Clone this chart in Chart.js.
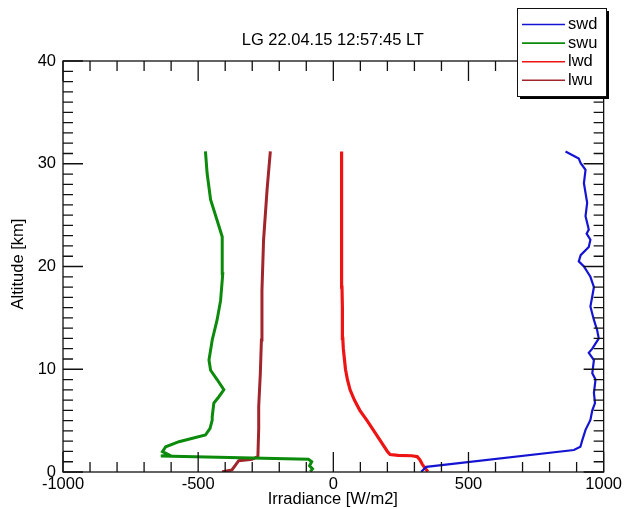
<!DOCTYPE html>
<html>
<head>
<meta charset="utf-8">
<script src="https://cdn.jsdelivr.net/npm/chart.js@4.4.0/dist/chart.umd.min.js"></script>
<style>
  body { margin: 0; background: #fff; }
  canvas { display: block; }
</style>
</head>
<body>
<canvas id="chart" width="625" height="509"></canvas>
<script>
const titre = 'LG 22.04.15 12:57:45 LT';
const xTitre = 'Irradiance [W/m2]';
const yTitre = 'Altitude [km]';
const xTicks = [-1000, -500, 0, 500, 1000];
const yTicks = [0, 10, 20, 30, 40];
const noms = ['swd', 'swu', 'lwd', 'lwu'];
const couleurs = ['#1414d2', '#0c8a0c', '#ee1414', '#a0262c'];

// altitude (km) / irradiance (W/m2)
const swdAlt = [0.03, 0.5, 2.14, 2.46, 3.1, 4.1, 5.06, 6.0, 6.7, 7.7, 9.0, 9.6, 10.9, 11.6, 12.0, 13.0, 13.8, 14.8, 16.1, 17.1, 18.0, 19.0, 20.0, 20.5, 21.1, 21.9, 22.6, 23.2, 23.6, 24.9, 26.2, 28.1, 29.4, 30.06, 30.5, 31.2];
const swdVal = [325, 344, 890, 914, 921, 933, 951, 958, 968, 964, 970, 958, 964, 945, 958, 982, 976, 964, 951, 958, 964, 951, 927, 908, 915, 945, 951, 937, 945, 933, 939, 927, 933, 915, 908, 859];

const swuAlt = [0.05, 0.3, 0.6, 1.0, 1.23, 1.56, 1.66, 1.98, 2.46, 2.95, 3.6, 4.25, 5.06, 5.4, 6.7, 7.3, 8.0, 9.0, 9.9, 10.9, 12.85, 14.8, 16.7, 19.3, 22.9, 24.5, 26.5, 29.1, 31.2];
const swuVal = [-85, -77, -88, -80, -92, -638, -608, -632, -620, -571, -473, -456, -448, -448, -442, -424, -405, -430, -454, -460, -448, -430, -417, -409, -411, -430, -454, -467, -473];

const lwdAlt = [0.05, 0.4, 0.8, 1.2, 1.5, 1.58, 1.62, 1.7, 2.0, 3.0, 4.0, 5.0, 6.0, 7.0, 8.0, 9.0, 10.0, 11.0, 12.0, 13.0, 14.0, 16.0, 18.0, 21.0, 24.0, 27.0, 30.0, 31.2];
const lwdVal = [350, 338, 328, 320, 310, 290, 240, 210, 200, 175, 150, 125, 98, 78, 62, 52, 45, 41, 37, 35, 34, 33, 32, 31, 31, 30, 30, 31];

const lwuAlt = [0.03, 0.2, 0.68, 1.1, 1.23, 1.5, 4.25, 6.4, 9.6, 12.85, 17.7, 22.6, 27.5, 31.2];
const lwuVal = [-411, -375, -362, -350, -301, -279, -276, -276, -270, -266, -264, -258, -245, -233];

const police = '16.5px "Liberation Sans", Arial, sans-serif';

function points(alt, val) {
  return alt.map((a, i) => ({ x: val[i], y: a }));
}

const series = [
  points(swdAlt, swdVal),
  points(swuAlt, swuVal),
  points(lwdAlt, lwdVal),
  points(lwuAlt, lwuVal)
];
const epaisseurs = [2.2, 3, 3.2, 3];

// cadre, graduations vers l'intérieur, titres et légende
const cadre = {
  id: 'cadre',
  afterDatasetsDraw(chart) {
    const { ctx, chartArea: a, scales: { x, y } } = chart;
    ctx.save();
    ctx.strokeStyle = '#111';
    ctx.lineWidth = 1.3;
    ctx.strokeRect(a.left, a.top, a.right - a.left, a.bottom - a.top);
    ctx.beginPath();
    for (let v = -1000; v <= 1000; v += 100) {
      const px = x.getPixelForValue(v);
      const l = v % 500 === 0 ? 20 : 10;
      ctx.moveTo(px, a.bottom); ctx.lineTo(px, a.bottom - l);
      ctx.moveTo(px, a.top); ctx.lineTo(px, a.top + l);
    }
    for (let v = 0; v <= 40; v += 1) {
      const py = y.getPixelForValue(v);
      const l = v % 10 === 0 ? 20 : 10;
      ctx.moveTo(a.left, py); ctx.lineTo(a.left + l, py);
      ctx.moveTo(a.right, py); ctx.lineTo(a.right - l, py);
    }
    ctx.stroke();
    ctx.restore();
  },
  afterDraw(chart) {
    const { ctx, chartArea: a } = chart;
    ctx.save();
    ctx.fillStyle = '#000';
    ctx.font = police;
    ctx.textAlign = 'center';
    ctx.textBaseline = 'middle';
    const cx = (a.left + a.right) / 2 - 0.5;
    ctx.fillText(titre, cx, 40);
    ctx.fillText(xTitre, cx, 499);
    ctx.translate(18, 264);
    ctx.rotate(-Math.PI / 2);
    ctx.fillText(yTitre, 0, 0);
    ctx.restore();

    // légende
    ctx.save();
    const bx = 517, by = 8, bw = 89, bh = 88;
    ctx.fillStyle = '#000';
    ctx.fillRect(bx + 3, by + 3, bw, bh);
    ctx.fillStyle = '#fff';
    ctx.fillRect(bx, by, bw, bh);
    ctx.strokeStyle = '#111';
    ctx.lineWidth = 1;
    ctx.strokeRect(bx + 0.5, by + 0.5, bw, bh);
    ctx.font = police;
    ctx.textBaseline = 'middle';
    noms.forEach((n, i) => {
      const ly = 24.5 + i * 18.6;
      ctx.strokeStyle = couleurs[i];
      ctx.lineWidth = 1.6;
      ctx.beginPath();
      ctx.moveTo(522, ly); ctx.lineTo(565, ly);
      ctx.stroke();
      ctx.fillStyle = '#000';
      ctx.fillText(n, 568, ly);
    });
    ctx.restore();
  }
};

Chart.defaults.color = '#000';
Chart.defaults.font.family = '"Liberation Sans", Arial, sans-serif';
Chart.defaults.font.size = 16.5;

new Chart(document.getElementById('chart').getContext('2d'), {
  type: 'scatter',
  data: {
    datasets: series.map((d, i) => ({
      label: noms[i],
      data: d,
      showLine: true,
      borderColor: couleurs[i],
      backgroundColor: couleurs[i],
      borderWidth: epaisseurs[i],
      pointRadius: 0,
      tension: 0
    }))
  },
  options: {
    responsive: false,
    animation: false,
    devicePixelRatio: 1,
    layout: { padding: { top: 61, right: 19, left: 0, bottom: 0 } },
    plugins: {
      legend: { display: false },
      title: { display: false },
      tooltip: { enabled: false }
    },
    scales: {
      x: {
        type: 'linear',
        min: -1000,
        max: 1000,
        afterBuildTicks: s => { s.ticks = xTicks.map(v => ({ value: v })); },
        ticks: { padding: 3, maxRotation: 0, autoSkip: false, callback: v => String(v) },
        grid: { display: false, drawTicks: false },
        border: { display: false },
        afterFit: s => { s.height = 37; }
      },
      y: {
        type: 'linear',
        min: 0,
        max: 40,
        afterBuildTicks: s => { s.ticks = yTicks.map(v => ({ value: v })); },
        ticks: { padding: 7, autoSkip: false, callback: v => String(v) },
        grid: { display: false, drawTicks: false },
        border: { display: false },
        afterFit: s => { s.width = 63; }
      }
    }
  },
  plugins: [cadre]
});
</script>
</body>
</html>
